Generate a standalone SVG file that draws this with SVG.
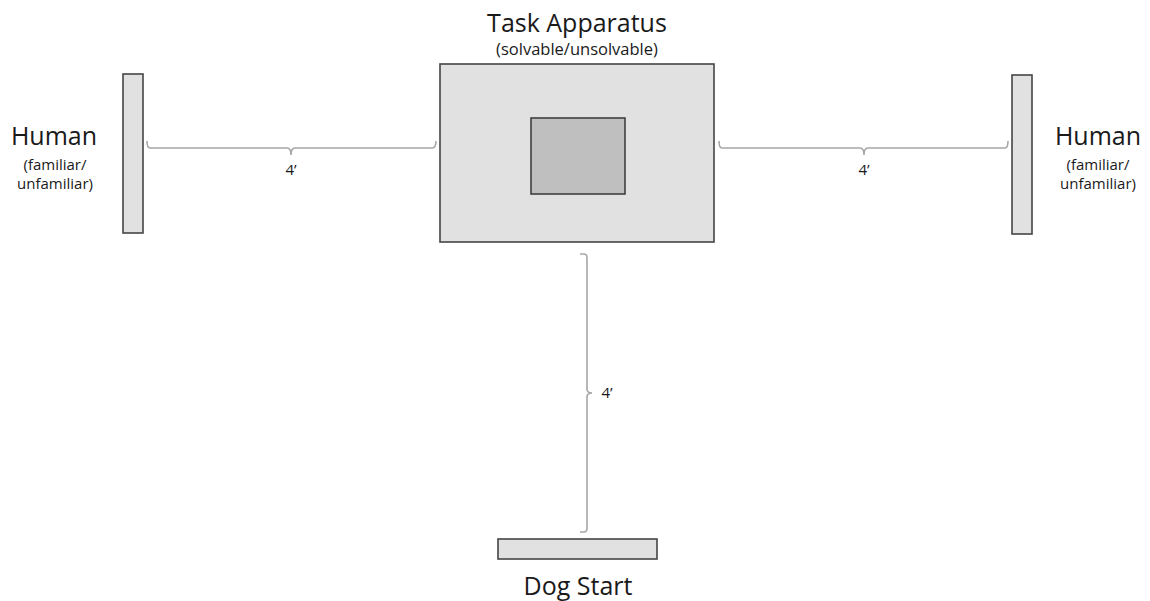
<svg xmlns="http://www.w3.org/2000/svg" width="1150" height="601" viewBox="0 0 1150 601">
<style>
.box{fill:#e1e1e1;stroke:#454545;stroke-width:1.6}
.inner{fill:#bfbfbf;stroke:#404040;stroke-width:1.6}
.brace{fill:none;stroke:#a6a6a6;stroke-width:1.6}
text{font-family:"Open Sans","Liberation Sans",sans-serif;fill:#1a1a1a;text-anchor:middle}
.big{font-size:25px}
.small{font-size:15px}
.sub{font-size:16.5px}
.dim{font-size:15px}
</style>
<rect width="1150" height="601" fill="#fff"/>
<g id="human-left">
<rect class="box" x="123" y="74" width="20" height="159"/>
<text class="big" x="54" y="145">Human</text>
<text class="small" x="55" y="170">(familiar/</text>
<text class="small" x="55" y="189">unfamiliar)</text>
</g>
<g id="task-apparatus">
<rect class="box" x="440" y="64" width="274" height="178"/>
<rect class="inner" x="531" y="118" width="94" height="76"/>
<text class="big" x="577" y="32">Task Apparatus</text>
<text class="sub" x="577" y="55">(solvable/unsolvable)</text>
</g>
<g id="human-right">
<rect class="box" x="1012" y="75" width="20" height="159"/>
<text class="big" x="1098" y="145">Human</text>
<text class="small" x="1098" y="170">(familiar/</text>
<text class="small" x="1098" y="189">unfamiliar)</text>
</g>
<g id="dog-start">
<rect class="box" x="498" y="539" width="159" height="20"/>
<text class="big" x="578" y="595">Dog Start</text>
</g>
<g id="connectors">
<path class="brace" d="M147,141 Q147,148 150,148 L287,148 Q291,148 291,155 Q291,148 295,148 L432,148 Q436,148 436,141"/>
<text class="dim" x="291" y="175">4’</text>
<path class="brace" d="M719,141 Q719,148 722,148 L860,148 Q864,148 864,155 Q864,148 868,148 L1005,148 Q1008,148 1008,141"/>
<text class="dim" x="864" y="175">4’</text>
<path class="brace" d="M580,254 L584,254 Q587,254 587,258 L587,389 Q587,393 592,393 Q587,393 587,397 L587,528 Q587,532 584,532 L580,532"/>
<text class="dim" x="607" y="398">4’</text>
</g>
</svg>
